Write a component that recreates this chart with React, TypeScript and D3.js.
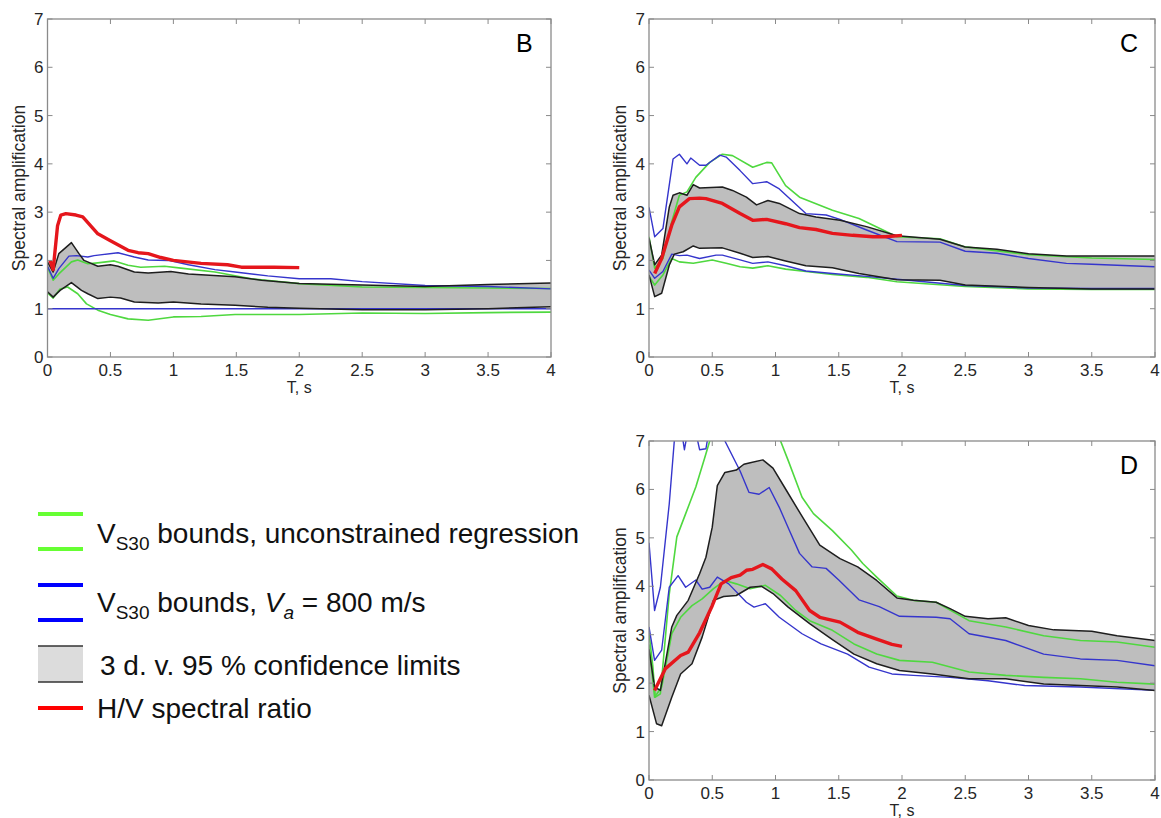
import React from 'react';
import * as d3 from 'd3';

type P = [number, number];

const xTicks = [0, 0.5, 1, 1.5, 2, 2.5, 3, 3.5, 4];
const yTicks = [0, 1, 2, 3, 4, 5, 6, 7];
const yTitle = 'Spectral amplification';
const xTitle = 'T, s';
const panelLetters = ['B', 'C', 'D'];

// ---------- Panel B ----------
const B_bandUpper: P[] = [[0,1.97],[0.045,1.76],[0.09,2.14],[0.19,2.37],[0.25,2.14],[0.29,2.0],[0.4,1.88],[0.5,1.91],[0.56,1.88],[0.69,1.76],[0.8,1.74],[0.98,1.77],[1.12,1.72],[1.49,1.66],[1.7,1.59],[2.0,1.52],[2.5,1.49],[3.0,1.46],[3.5,1.5],[4.0,1.53]];
const B_bandLower: P[] = [[0,1.35],[0.045,1.24],[0.1,1.38],[0.19,1.54],[0.27,1.38],[0.32,1.31],[0.4,1.21],[0.5,1.24],[0.58,1.22],[0.69,1.14],[0.88,1.12],[1.0,1.14],[1.22,1.1],[1.49,1.07],[1.75,1.03],[2.0,1.01],[2.5,0.98],[3.0,0.98],[3.5,1.0],[4.0,1.04]];
const B_greenUpper: P[] = [[0,1.86],[0.045,1.59],[0.09,1.72],[0.19,1.97],[0.24,2.01],[0.32,1.93],[0.4,1.95],[0.53,1.99],[0.64,1.9],[0.74,1.86],[0.93,1.88],[1.06,1.84],[1.33,1.76],[1.62,1.62],[2.0,1.52],[2.5,1.45],[3.0,1.44],[3.5,1.43],[4.0,1.42]];
const B_greenLower: P[] = [[0,1.33],[0.045,1.22],[0.1,1.41],[0.16,1.45],[0.24,1.31],[0.31,1.1],[0.4,0.97],[0.5,0.88],[0.64,0.79],[0.8,0.76],[1.0,0.83],[1.22,0.84],[1.49,0.88],[2.0,0.88],[2.5,0.91],[3.0,0.9],[3.5,0.92],[4.0,0.93]];
const B_blueUpper: P[] = [[0,1.88],[0.045,1.63],[0.09,1.83],[0.17,2.09],[0.23,2.1],[0.32,2.07],[0.37,2.1],[0.56,2.16],[0.69,2.07],[0.8,2.01],[0.96,2.0],[1.12,1.91],[1.33,1.81],[1.49,1.76],[1.75,1.68],[2.0,1.62],[2.25,1.62],[2.5,1.56],[3.0,1.48],[3.5,1.46],[4.0,1.41]];
const B_blueLower: P[] = [[0,1.0],[4,1.0]];
const B_red: P[] = [[0.02,2.0],[0.045,1.81],[0.08,2.72],[0.106,2.94],[0.146,2.97],[0.226,2.94],[0.28,2.9],[0.4,2.55],[0.5,2.41],[0.64,2.21],[0.72,2.16],[0.8,2.14],[0.9,2.06],[1.0,2.0],[1.22,1.94],[1.43,1.91],[1.54,1.86],[1.65,1.86],[1.8,1.86],[2.0,1.85]];

// ---------- Panel C ----------
const C_bandUpper: P[] = [[0,2.46],[0.045,1.91],[0.1,2.11],[0.16,3.1],[0.19,3.35],[0.24,3.4],[0.3,3.35],[0.35,3.57],[0.4,3.5],[0.58,3.52],[0.66,3.45],[0.77,3.31],[0.85,3.15],[0.94,3.24],[1.03,3.18],[1.19,2.97],[1.32,2.9],[1.51,2.83],[1.72,2.7],[1.96,2.51],[2.3,2.44],[2.5,2.28],[2.75,2.23],[3.0,2.14],[3.3,2.09],[3.5,2.09],[4.0,2.09]];
const C_bandLower: P[] = [[0,1.7],[0.045,1.25],[0.1,1.32],[0.16,1.9],[0.2,2.13],[0.27,2.18],[0.35,2.3],[0.4,2.25],[0.58,2.26],[0.72,2.15],[0.82,2.06],[0.94,2.08],[1.08,1.99],[1.24,1.89],[1.45,1.85],[1.66,1.73],[1.96,1.6],[2.3,1.59],[2.5,1.49],[3.0,1.44],[3.5,1.41],[4.0,1.41]];
const C_greenUpper: P[] = [[0,2.49],[0.045,1.84],[0.11,2.04],[0.18,2.8],[0.24,3.35],[0.3,3.42],[0.37,3.72],[0.48,4.03],[0.58,4.2],[0.66,4.17],[0.82,3.93],[0.93,4.03],[0.97,4.02],[1.08,3.55],[1.19,3.31],[1.45,3.04],[1.66,2.87],[1.85,2.63],[1.96,2.49],[2.3,2.45],[2.5,2.28],[3.0,2.12],[3.5,2.05],[4.0,2.02]];
const C_greenLower: P[] = [[0,1.67],[0.045,1.49],[0.11,1.7],[0.18,2.04],[0.24,1.97],[0.35,1.94],[0.5,2.01],[0.61,1.94],[0.72,1.87],[0.82,1.84],[0.94,1.89],[1.08,1.82],[1.24,1.77],[1.45,1.71],[1.72,1.65],[1.96,1.56],[2.5,1.46],[3.0,1.41],[3.5,1.4],[4.0,1.4]];
const C_blueUpper: P[] = [[0,3.1],[0.045,2.49],[0.11,2.66],[0.19,4.1],[0.24,4.2],[0.3,4.0],[0.33,4.12],[0.4,3.97],[0.45,3.97],[0.56,4.18],[0.61,4.14],[0.72,3.86],[0.82,3.59],[0.93,3.63],[1.03,3.48],[1.24,2.97],[1.4,2.94],[1.51,2.85],[1.72,2.63],[1.96,2.39],[2.3,2.38],[2.5,2.19],[2.75,2.15],[3.0,2.04],[3.3,1.94],[3.5,1.92],[4.0,1.87]];
const C_blueLower: P[] = [[0,1.8],[0.045,1.63],[0.11,1.77],[0.18,2.13],[0.24,2.1],[0.3,2.11],[0.4,2.04],[0.53,2.11],[0.58,2.11],[0.72,2.01],[0.82,1.94],[0.94,1.97],[1.08,1.89],[1.24,1.78],[1.45,1.73],[1.72,1.67],[1.96,1.61],[2.5,1.48],[3.0,1.43],[3.5,1.42],[4.0,1.42]];
const C_red: P[] = [[0.045,1.73],[0.1,2.04],[0.18,2.73],[0.24,3.11],[0.32,3.28],[0.4,3.29],[0.45,3.28],[0.58,3.18],[0.72,2.97],[0.82,2.83],[0.93,2.85],[1.08,2.76],[1.19,2.68],[1.32,2.64],[1.45,2.56],[1.61,2.52],[1.77,2.49],[1.87,2.49],[2.0,2.52]];

// ---------- Panel D ----------
const D_bandUpper: P[] = [[0,2.7],[0.044,1.92],[0.09,1.85],[0.18,3.16],[0.22,3.4],[0.31,3.71],[0.4,4.26],[0.45,4.6],[0.5,5.22],[0.54,6.08],[0.6,6.35],[0.69,6.4],[0.75,6.52],[0.8,6.55],[0.9,6.61],[0.98,6.44],[1.07,6.05],[1.22,5.4],[1.35,4.85],[1.51,4.57],[1.65,4.4],[1.8,4.12],[1.96,3.76],[2.09,3.71],[2.27,3.67],[2.38,3.54],[2.5,3.38],[2.68,3.33],[2.82,3.35],[3.0,3.19],[3.2,3.1],[3.5,3.07],[3.7,2.98],[4.0,2.88]];
const D_bandLower: P[] = [[0,1.75],[0.06,1.16],[0.1,1.12],[0.18,1.71],[0.25,2.19],[0.34,2.4],[0.42,2.95],[0.51,3.71],[0.59,3.79],[0.69,3.81],[0.8,3.98],[0.89,4.0],[0.98,3.85],[1.1,3.57],[1.27,3.23],[1.45,2.9],[1.62,2.6],[1.8,2.4],[1.98,2.26],[2.24,2.19],[2.53,2.09],[2.82,2.09],[3.12,1.98],[3.41,1.95],[3.7,1.92],[4.0,1.85]];
const D_greenUpper: P[] = [[0,3.04],[0.03,2.35],[0.05,1.71],[0.09,1.78],[0.16,3.84],[0.22,5.02],[0.29,5.5],[0.37,6.05],[0.44,6.65],[0.48,7.0],[0.6,7.8],[0.75,8.3],[0.9,8.1],[1.04,7.0],[1.1,6.6],[1.21,5.84],[1.3,5.5],[1.45,5.15],[1.6,4.75],[1.69,4.47],[1.8,4.19],[1.96,3.8],[2.09,3.71],[2.27,3.67],[2.53,3.29],[2.82,3.16],[3.12,2.98],[3.41,2.88],[3.7,2.85],[4.0,2.74]];
const D_greenLower: P[] = [[0,2.8],[0.044,1.71],[0.1,1.92],[0.18,3.02],[0.25,3.36],[0.34,3.6],[0.42,3.74],[0.51,3.95],[0.6,4.12],[0.69,4.05],[0.8,3.95],[0.92,4.02],[1.04,3.81],[1.16,3.5],[1.27,3.29],[1.45,3.09],[1.62,2.81],[1.8,2.6],[1.98,2.47],[2.24,2.43],[2.53,2.23],[2.82,2.16],[3.12,2.12],[3.41,2.09],[3.7,2.02],[4.0,1.98]];
const D_blueUpper: P[] = [[0,4.9],[0.044,3.5],[0.09,3.98],[0.16,5.7],[0.2,7.0],[0.24,7.5],[0.28,6.82],[0.32,7.4],[0.36,7.3],[0.4,6.82],[0.45,6.84],[0.48,7.3],[0.55,7.6],[0.6,7.0],[0.72,6.38],[0.79,5.94],[0.87,5.9],[0.95,6.04],[1.03,5.63],[1.11,5.15],[1.19,4.68],[1.29,4.4],[1.4,4.37],[1.5,4.13],[1.66,3.72],[1.82,3.58],[1.98,3.38],[2.27,3.36],[2.38,3.33],[2.53,3.02],[2.82,2.88],[3.12,2.6],[3.41,2.5],[3.7,2.47],[4.0,2.36]];
const D_blueLower: P[] = [[0,3.16],[0.044,2.47],[0.1,2.68],[0.16,3.98],[0.23,4.22],[0.29,3.98],[0.37,4.13],[0.42,3.94],[0.48,3.98],[0.54,4.19],[0.63,4.05],[0.77,3.67],[0.83,3.57],[0.92,3.64],[1.03,3.36],[1.21,3.02],[1.36,2.81],[1.57,2.6],[1.74,2.33],[1.92,2.19],[2.09,2.16],[2.38,2.12],[2.68,2.05],[2.97,1.95],[3.41,1.92],[4.0,1.85]];
const D_red: P[] = [[0.044,1.85],[0.13,2.3],[0.25,2.57],[0.31,2.64],[0.4,3.04],[0.5,3.6],[0.57,4.05],[0.65,4.18],[0.72,4.23],[0.77,4.33],[0.82,4.35],[0.9,4.45],[0.97,4.36],[1.05,4.15],[1.16,3.91],[1.27,3.5],[1.35,3.36],[1.51,3.26],[1.65,3.05],[1.8,2.91],[1.92,2.8],[2.0,2.76]];

const FONT = '"Liberation Sans", Arial, Helvetica, sans-serif';
const GREEN = '#4fd83f';
const BLUE = '#3535cc';
const BLACK = '#1e1e1e';
const FILL = '#bebebe';
const RED = '#e5161c';
const AXIS = '#8a8a8a';

interface PanelDef {
  key: string;
  letter: string;
  left: number; right: number; top: number; bottom: number;
  bandUpper: P[]; bandLower: P[];
  greenUpper: P[]; greenLower: P[];
  blueUpper: P[]; blueLower: P[];
  red: P[];
}

const panels: PanelDef[] = [
  { key: 'B', letter: panelLetters[0], left: 47.5, right: 551, top: 19, bottom: 357,
    bandUpper: B_bandUpper, bandLower: B_bandLower, greenUpper: B_greenUpper, greenLower: B_greenLower,
    blueUpper: B_blueUpper, blueLower: B_blueLower, red: B_red },
  { key: 'C', letter: panelLetters[1], left: 649, right: 1155, top: 19, bottom: 357,
    bandUpper: C_bandUpper, bandLower: C_bandLower, greenUpper: C_greenUpper, greenLower: C_greenLower,
    blueUpper: C_blueUpper, blueLower: C_blueLower, red: C_red },
  { key: 'D', letter: panelLetters[2], left: 649, right: 1155, top: 441, bottom: 780,
    bandUpper: D_bandUpper, bandLower: D_bandLower, greenUpper: D_greenUpper, greenLower: D_greenLower,
    blueUpper: D_blueUpper, blueLower: D_blueLower, red: D_red },
];

function Panel({ p }: { p: PanelDef }) {
  const x = d3.scaleLinear().domain([0, 4]).range([p.left, p.right]);
  const y = d3.scaleLinear().domain([0, 7]).range([p.bottom, p.top]);
  const line = d3.line<P>().x(d => x(d[0])).y(d => y(d[1]));
  const bandPts: P[] = [...p.bandUpper, ...p.bandLower.slice().reverse()];
  const band = d3.line<P>().x(d => x(d[0])).y(d => y(d[1])).curve(d3.curveLinearClosed);
  const clipId = `clip-${p.key}`;
  const tl = 5;
  const midX = (p.left + p.right) / 2;
  const midY = (p.top + p.bottom) / 2;
  return (
    <g>
      <defs>
        <clipPath id={clipId}>
          <rect x={p.left} y={p.top} width={p.right - p.left} height={p.bottom - p.top} />
        </clipPath>
      </defs>
      <rect x={p.left} y={p.top} width={p.right - p.left} height={p.bottom - p.top} fill="#fff" />
      <g clipPath={`url(#${clipId})`} fill="none" strokeLinejoin="round">
        <path d={band(bandPts) || ''} fill={FILL} stroke="none" />
        <path d={line(p.greenUpper) || ''} stroke={GREEN} strokeWidth={1.6} />
        <path d={line(p.greenLower) || ''} stroke={GREEN} strokeWidth={1.6} />
        <path d={line(p.blueUpper) || ''} stroke={BLUE} strokeWidth={1.4} />
        <path d={line(p.blueLower) || ''} stroke={BLUE} strokeWidth={1.4} />
        <path d={line(p.bandUpper) || ''} stroke={BLACK} strokeWidth={1.5} />
        <path d={line(p.bandLower) || ''} stroke={BLACK} strokeWidth={1.5} />
        <path d={line(p.red) || ''} stroke={RED} strokeWidth={3.4} />
      </g>
      <rect x={p.left} y={p.top} width={p.right - p.left} height={p.bottom - p.top} fill="none" stroke={AXIS} strokeWidth={1.3} />
      {xTicks.map(t => (
        <g key={`xt${t}`}>
          <line x1={x(t)} x2={x(t)} y1={p.bottom} y2={p.bottom - tl} stroke={AXIS} strokeWidth={1} />
          <line x1={x(t)} x2={x(t)} y1={p.top} y2={p.top + tl} stroke={AXIS} strokeWidth={1} />
          <text x={x(t)} y={p.bottom + 19} textAnchor="middle" fontSize={17} fill="#262626" fontFamily={FONT}>{String(t)}</text>
        </g>
      ))}
      {yTicks.map(t => (
        <g key={`yt${t}`}>
          <line x1={p.left} x2={p.left + tl} y1={y(t)} y2={y(t)} stroke={AXIS} strokeWidth={1} />
          <line x1={p.right} x2={p.right - tl} y1={y(t)} y2={y(t)} stroke={AXIS} strokeWidth={1} />
          <text x={p.left - 4} y={y(t) + 6} textAnchor="end" fontSize={17} fill="#262626" fontFamily={FONT}>{String(t)}</text>
        </g>
      ))}
      <text x={midX} y={p.bottom + 36} textAnchor="middle" fontSize={16} fill="#262626" fontFamily={FONT}>{xTitle}</text>
      <text transform={`translate(${p.left - 23},${midY}) rotate(-90)`} textAnchor="middle" fontSize={17.5} fill="#262626" fontFamily={FONT}>{yTitle}</text>
      <text x={p.right - 35} y={p.top + 33} fontSize={25} fill="#000" fontFamily={FONT}>{p.letter}</text>
    </g>
  );
}

function Legend() {
  const x1 = 38, x2 = 83, tx = 97;
  const fs = 28;
  const sub = 19;
  return (
    <g fontFamily={FONT} fill="#111">
      <line x1={x1} x2={x2} y1={514} y2={514} stroke="#66ff33" strokeWidth={4} />
      <line x1={x1} x2={x2} y1={549} y2={549} stroke="#66ff33" strokeWidth={4} />
      <text x={tx} y={543} fontSize={fs}>V<tspan fontSize={sub} dy={7}>S30</tspan><tspan dy={-7}> bounds, unconstrained regression</tspan></text>

      <line x1={x1} x2={x2} y1={585} y2={585} stroke="#0000ff" strokeWidth={4} />
      <line x1={x1} x2={x2} y1={620} y2={620} stroke="#0000ff" strokeWidth={4} />
      <text x={tx} y={612} fontSize={fs}>V<tspan fontSize={sub} dy={7}>S30</tspan><tspan dy={-7}> bounds, </tspan><tspan fontStyle="italic">V</tspan><tspan fontStyle="italic" fontSize={sub} dy={7}>a</tspan><tspan dy={-7}> = 800 m/s</tspan></text>

      <rect x={x1} y={646} width={x2 - x1} height={36} fill="#dcdcdc" />
      <line x1={x1} x2={x2} y1={646} y2={646} stroke="#333" strokeWidth={1.5} />
      <line x1={x1} x2={x2} y1={682} y2={682} stroke="#333" strokeWidth={1.5} />
      <text x={tx + 3} y={675} fontSize={fs}>3 d. v. 95 % confidence limits</text>

      <line x1={x1} x2={x2} y1={708} y2={708} stroke="#ff0000" strokeWidth={4} />
      <text x={tx} y={718} fontSize={fs}>H/V spectral ratio</text>
    </g>
  );
}

export default function App() {
  return (
    <svg width={1161} height={818} style={{ position: 'absolute', left: 0, top: 0, background: '#fff' }}>
      <rect x={0} y={0} width={1161} height={818} fill="#fff" />
      {panels.map(p => <Panel key={p.key} p={p} />)}
      <Legend />
    </svg>
  );
}
